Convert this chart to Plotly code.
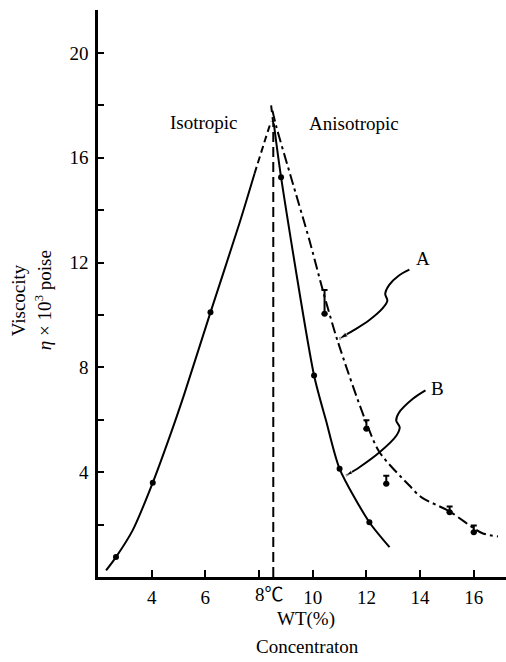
import plotly.graph_objects as go

# ---- data ----
iso_x = [2.3, 2.67, 3.3, 4.04, 4.72, 5.22, 6.19, 7.27, 7.83]
iso_y = [0.25, 0.76, 1.8, 3.6, 5.5, 7.0, 10.1, 13.5, 15.39]
iso_top_x = [7.83, 8.2, 8.45]
iso_top_y = [15.39, 16.6, 17.4]
iso_dot_x = [2.67, 4.04, 6.19]
iso_dot_y = [0.76, 3.6, 10.1]

trans_x = [8.53, 8.53, 8.45]
trans_y = [0.0, 17.3, 18.0]

a_x = [8.5, 8.64, 9.19, 9.88, 10.36, 10.92, 11.96, 12.49, 13.6, 14.04, 15.1, 16.3, 16.9]
a_y = [17.8, 17.2, 15.26, 12.84, 11.0, 9.03, 5.98, 4.76, 3.49, 3.05, 2.5, 1.68, 1.55]
a_pt_x = [10.44, 12.0, 12.74, 15.1, 16.0]
a_pt_y = [10.05, 5.66, 3.56, 2.47, 1.71]
a_pt_err = [0.9, 0.32, 0.3, 0.22, 0.26]

b_x = [8.55, 8.82, 10.05, 10.5, 11.0, 12.11, 12.86]
b_y = [17.3, 15.26, 7.69, 5.95, 4.13, 2.09, 1.14]
b_dot_x = [8.82, 10.05, 11.0, 12.11]
b_dot_y = [15.26, 7.69, 4.13, 2.09]

callA_x = [13.6, 13.2, 12.85, 12.7, 12.78, 12.6, 12.1, 11.5, 10.99]
callA_y = [11.73, 11.5, 11.15, 10.8, 10.55, 10.25, 9.8, 9.4, 9.09]
callB_x = [14.2, 13.73, 13.2, 13.11, 13.24, 13.12, 12.49, 11.74, 11.24]
callB_y = [7.12, 6.8, 6.25, 5.97, 5.72, 5.4, 4.76, 4.19, 3.87]

x_ticks = [4, 6, 8, 10, 12, 14, 16]
x_ticktext = ["4", "6", "", "10", "12", "14", "16"]
y_ticks = [2, 4, 6, 8, 10, 12, 14, 16, 18, 20]
y_ticktext = ["", "4", "", "8", "", "12", "", "16", "", "20"]

FONT = "Liberation Serif, Times New Roman, Noto Sans CJK SC, serif"
BLK = "black"

fig = go.Figure()

fig.add_trace(go.Scatter(x=iso_x, y=iso_y, mode="lines",
                         line=dict(color=BLK, width=2, shape="spline", smoothing=0.8)))
fig.add_trace(go.Scatter(x=iso_top_x, y=iso_top_y, mode="lines",
                         line=dict(color=BLK, width=2, dash="7px,4px", shape="spline")))
fig.add_trace(go.Scatter(x=iso_dot_x, y=iso_dot_y, mode="markers",
                         marker=dict(color=BLK, size=6)))

fig.add_trace(go.Scatter(x=trans_x, y=trans_y, mode="lines",
                         line=dict(color=BLK, width=2, dash="10px,5px")))

fig.add_trace(go.Scatter(x=a_x, y=a_y, mode="lines",
                         line=dict(color=BLK, width=2, dash="11px,4px,3px,4px",
                                   shape="spline", smoothing=0.8)))
fig.add_trace(go.Scatter(x=a_pt_x, y=a_pt_y, mode="markers",
                         marker=dict(color=BLK, size=6),
                         error_y=dict(type="data", symmetric=False, array=a_pt_err,
                                      arrayminus=[0] * len(a_pt_err),
                                      color=BLK, thickness=2, width=3)))

fig.add_trace(go.Scatter(x=b_x, y=b_y, mode="lines",
                         line=dict(color=BLK, width=2, shape="spline", smoothing=0.7)))
fig.add_trace(go.Scatter(x=b_dot_x, y=b_dot_y, mode="markers",
                         marker=dict(color=BLK, size=6)))

fig.add_trace(go.Scatter(x=callA_x, y=callA_y, mode="lines+markers",
                         line=dict(color=BLK, width=2, shape="spline", smoothing=0.9),
                         marker=dict(symbol="arrow", angleref="previous",
                                     size=[0] * (len(callA_x) - 1) + [9], color=BLK)))
fig.add_trace(go.Scatter(x=callB_x, y=callB_y, mode="lines+markers",
                         line=dict(color=BLK, width=2, shape="spline", smoothing=0.9),
                         marker=dict(symbol="arrow", angleref="previous",
                                     size=[0] * (len(callB_x) - 1) + [7], color=BLK)))

txt = dict(family=FONT, size=19, color=BLK)
ann = [
    dict(x=5.96, y=17.35, xref="x", yref="y", text="Isotropic", showarrow=False, font=txt),
    dict(x=11.54, y=17.3, xref="x", yref="y", text="Anisotropic", showarrow=False, font=txt),
    dict(x=14.09, y=12.16, xref="x", yref="y", text="A", showarrow=False, font=txt),
    dict(x=14.65, y=7.19, xref="x", yref="y", text="B", showarrow=False, font=txt),
    dict(x=8.4, y=-0.03, xref="x", yref="paper", text="8℃", showarrow=False,
         font=txt, yanchor="middle", xanchor="center"),
    dict(x=0.51, y=-0.074, xref="paper", yref="paper", text="WT(%)", showarrow=False,
         font=txt, yanchor="middle", xanchor="center"),
    dict(x=0.513, y=-0.1217, xref="paper", yref="paper", text="Concentraton", showarrow=False,
         font=txt, yanchor="middle", xanchor="center"),
    dict(x=-0.196, y=0.488, xref="paper", yref="paper", text="Viscocity", textangle=-90,
         showarrow=False, font=txt, xanchor="center", yanchor="middle"),
    dict(x=-0.135, y=0.488, xref="paper", yref="paper",
         text="<i>η</i> × 10<sup>3</sup> poise", textangle=-90, showarrow=False, font=txt,
         xanchor="center", yanchor="middle"),
]

fig.update_layout(
    width=506, height=662,
    margin=dict(l=98, r=0, t=10, b=85),
    paper_bgcolor="white", plot_bgcolor="white",
    showlegend=False,
    annotations=ann,
    xaxis=dict(range=[2.0, 17.2], showline=True, linecolor=BLK, linewidth=2.5,
               ticks="inside", ticklen=7, tickwidth=2, tickcolor=BLK,
               tickvals=x_ticks, ticktext=x_ticktext, showgrid=False, zeroline=False,
               tickfont=txt, ticklabelstandoff=1),
    yaxis=dict(range=[0, 21.64], showline=True, linecolor=BLK, linewidth=2.5,
               ticks="inside", ticklen=6, tickwidth=2, tickcolor=BLK,
               tickvals=y_ticks, ticktext=y_ticktext, showgrid=False, zeroline=False,
               tickfont=txt, ticklabelstandoff=3),
)

fig.write_html("out.html")
